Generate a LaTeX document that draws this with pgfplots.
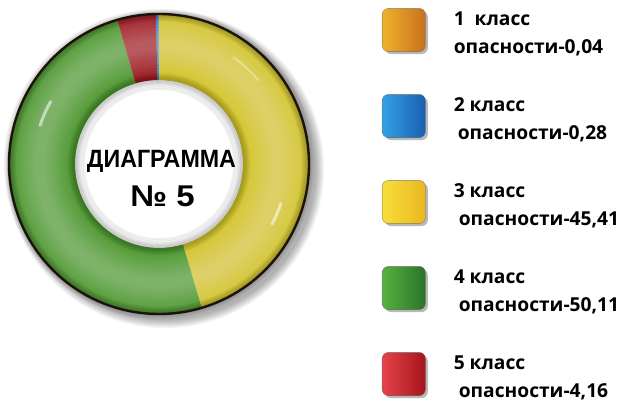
\documentclass[border=0pt]{standalone}
\usepackage{pgfplots}
\pgfplotsset{compat=1.18}
\usepackage{pgfplotstable}
\usepackage{graphicx}
\usepackage{fontspec}
\setmainfont{Open Sans}
\newfontfamily\heavyfont{Liberation Sans}

\definecolor{cA}{HTML}{E39A22}
\definecolor{cB}{HTML}{2A8AD6}
\definecolor{cC}{HTML}{D3C42A}
\definecolor{cD}{HTML}{4C972E}
\definecolor{cE}{HTML}{9E1A22}
\definecolor{lA1}{HTML}{EFB22C}\definecolor{lA2}{HTML}{C8701C}
\definecolor{lB1}{HTML}{33A2E4}\definecolor{lB2}{HTML}{1A5EB2}
\definecolor{lC1}{HTML}{F7DE3A}\definecolor{lC2}{HTML}{EBB722}
\definecolor{lD1}{HTML}{56B23C}\definecolor{lD2}{HTML}{2B742C}
\definecolor{lE1}{HTML}{E8434A}\definecolor{lE2}{HTML}{A5141C}

\pgfplotstableread{
class value
1 0.04
2 0.28
3 45.41
4 50.11
5 4.16
}\hazard

\newcommand\cx{159}
\newcommand\cy{239}
\newcommand\Ro{150}
\newcommand\Ri{84}

% #1 fill, #2 start angle, #3 end angle, #4 legend left colour, #5 legend right colour
\newcommand\ring[5]{%
\addplot[fill=#1, draw=none, samples at={0,1,...,81}, variable=\t,
  legend image code/.code={%
    \begin{scope}[fill=none, draw=none, opacity=1]
    \path[fill=none, draw=none] (0,-34bp) rectangle (43bp,24bp);
    \fill[black, opacity=0.28, rounded corners=6bp] (2.5bp,-29bp) rectangle (45.5bp,14bp);
    \shade[left color=#4, right color=#5, rounded corners=6bp] (0,-26.5bp) rectangle (43bp,16.5bp);
    \draw[fill=none, black!60, opacity=0.5, line width=0.6bp, rounded corners=6bp] (0,-26.5bp) rectangle (43bp,16.5bp);
    \end{scope}
  }]
 ({\cx + ((\t<40.5) ? \Ro : \Ri)*cos(((\t<40.5) ? ((#2)+((#3)-(#2))*\t/40) : ((#3)-((#3)-(#2))*(\t-41)/40)))},
  {\cy + ((\t<40.5) ? \Ro : \Ri)*sin(((\t<40.5) ? ((#2)+((#3)-(#2))*\t/40) : ((#3)-((#3)-(#2))*(\t-41)/40)))});
}

\begin{document}%
\pgfplotstablegetelem{0}{value}\of\hazard\let\vA\pgfplotsretval%
\pgfplotstablegetelem{1}{value}\of\hazard\let\vB\pgfplotsretval%
\pgfplotstablegetelem{2}{value}\of\hazard\let\vC\pgfplotsretval%
\pgfplotstablegetelem{3}{value}\of\hazard\let\vD\pgfplotsretval%
\pgfplotstablegetelem{4}{value}\of\hazard\let\vE\pgfplotsretval%
\pgfmathsetmacro\aCs{90}%
\pgfmathsetmacro\aCe{\aCs-3.6*\vC}%
\pgfmathsetmacro\aDe{\aCe-3.6*\vD}%
\pgfmathsetmacro\aEe{\aDe-3.6*\vE}%
\pgfmathsetmacro\aBe{\aEe-3.6*\vB}%
\pgfmathsetmacro\aAe{\aBe-3.6*\vA}%
\begin{tikzpicture}
% drop shadow
\foreach \i in {0,...,9} {
  \fill[black, opacity=0.035] (\cx bp+6bp,\cy bp-5bp) circle[radius=\Ro bp+1bp+\i*0.9bp];
}
\fill[white] (\cx bp,\cy bp) circle[radius=\Ri bp];
\begin{axis}[x=1bp, y=1bp, xmin=0, xmax=619, ymin=0, ymax=403,
  scale only axis, hide axis, clip=false,
  legend cell align=left,
  legend style={at={(axis cs:382,402)}, anchor=north west, draw=none, fill=none,
    inner sep=0pt, outer sep=0pt, row sep=28bp, column sep=24bp,
    cells={anchor=base west, inner sep=0pt},
    font=\fontsize{19.2bp}{28bp}\selectfont\bfseries},
]
\ring{cA}{\aBe}{\aAe}{lA1}{lA2}
\addlegendentry{\begin{tabular}[t]{@{}l@{}}1\ \ класс\\опасности-0,04\end{tabular}}
\ring{cB}{\aEe}{\aBe}{lB1}{lB2}
\addlegendentry{\begin{tabular}[t]{@{}l@{}}2 класс\\\hspace*{4bp}опасности-0,28\end{tabular}}
\ring{cC}{\aCs}{\aCe}{lC1}{lC2}
\addlegendentry{\begin{tabular}[t]{@{}l@{}}3 класс\\\hspace*{5bp}опасности-45,41\end{tabular}}
\ring{cD}{\aCe}{\aDe}{lD1}{lD2}
\addlegendentry{\begin{tabular}[t]{@{}l@{}}4 класс\\\hspace*{5bp}опасности-50,11\end{tabular}}
\ring{cE}{\aDe}{\aEe}{lE1}{lE2}
\addlegendentry{\begin{tabular}[t]{@{}l@{}}5 класс\\\hspace*{5bp}опасности-4,16\end{tabular}}
\end{axis}
% tube shading
\foreach \w in {64,58,52,46,40,34,28,22,16,10} {
  \draw[white, opacity=0.035, line width=\w bp] (\cx bp,\cy bp) circle[radius=119bp];
}
\foreach \w in {3,6,9,12} {
  \draw[black, opacity=0.06, line width=\w bp] (\cx bp,\cy bp) circle[radius=\Ro bp-1bp];
  \draw[black, opacity=0.05, line width=\w bp] (\cx bp,\cy bp) circle[radius=\Ri bp+1bp];
}
\draw[black!85!brown, line width=2.4bp] (\cx bp,\cy bp) circle[radius=\Ro bp];
% inner shadow in hole
\foreach \i in {1,...,6} {
  \draw[black, opacity=0.05, line width=2bp] (\cx bp,\cy bp) circle[radius=\Ri bp-\i*1.5bp];
}
% highlights
\draw[white, opacity=0.55, line width=3bp, line cap=round] (\cx bp,\cy bp) ++(150:125bp) arc[start angle=150, end angle=162, radius=125bp];
\draw[white, opacity=0.55, line width=3bp, line cap=round] (\cx bp,\cy bp) ++(-28:128bp) arc[start angle=-28, end angle=-18, radius=128bp];
\draw[white, opacity=0.35, line width=2bp, line cap=round] (\cx bp,\cy bp) ++(40:130bp) arc[start angle=40, end angle=55, radius=130bp];
% centre title
\node[anchor=base, text=black, inner sep=0pt] at (161.5bp,235bp)
  {\heavyfont\bfseries\fontsize{25bp}{25bp}\selectfont\scalebox{0.93}[1]{ДИАГРАММА}};
\node[anchor=base, text=black, inner sep=0pt] at (162.5bp,196bp)
  {\heavyfont\bfseries\fontsize{30bp}{30bp}\selectfont\scalebox{1.1}[1]{№ 5}};
\pgfresetboundingbox
\path[use as bounding box] (0,0) rectangle (619bp,403bp);
\end{tikzpicture}%
\end{document}
